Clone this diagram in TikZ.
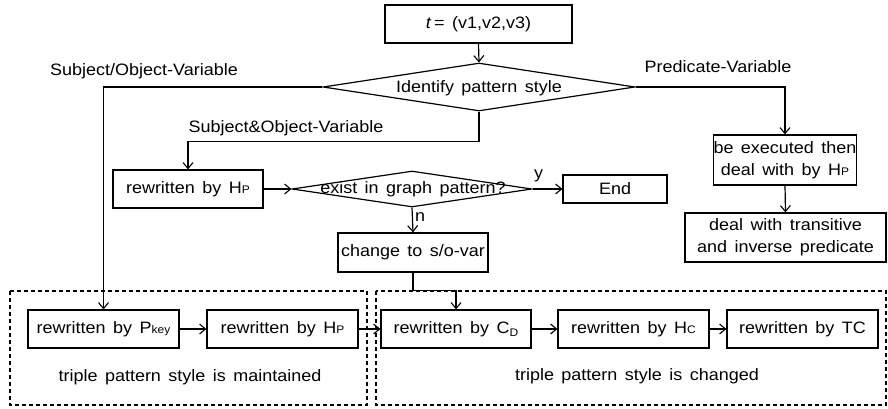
\documentclass[tikz,border=0pt]{standalone}
\usepackage{fontspec}
\setmainfont{Liberation Sans}[FakeStretch=1.09,WordSpace=1.5]
\usetikzlibrary{arrows.meta,shapes.geometric}
\newcommand\smx[1]{{\fontsize{11}{10}\selectfont #1}}
\tikzset{
  every node/.style={font=\fontsize{16.5}{22}\selectfont},
  box/.style={draw,line width=1.2pt,inner sep=0pt,align=center},
  dia/.style={draw,diamond,line width=1.2pt,inner sep=0pt},
  conn/.style={line width=1.2pt,-{Straight Barb[length=6pt,width=10pt,line width=1.1pt]}},
  region/.style={draw,line width=1.1pt,dash pattern=on 4pt off 3pt},
  lbl/.style={inner sep=0pt}
}
\begin{document}
\begin{tikzpicture}[x=1pt,y=-1pt]
\useasboundingbox (0,0) rectangle (888,409);
% dashed regions
\draw[region] (10,291) rectangle (367,405);
\draw[region] (376,291) rectangle (886,405);
% nodes
\node[box,minimum width=187,minimum height=38] (t) at (478.5,24) {\textit{t}\,= (v1,v2,v3)};
\node[dia,minimum width=312,minimum height=48] (d1) at (479,87) {};
\node[lbl] at (479,88) {Identify pattern style};
\node[box,minimum width=150,minimum height=38] (hp1) at (188,189) {rewritten by H\smx{P}};
\node[dia,minimum width=240,minimum height=36] (d2) at (412,189) {};
\node[lbl] at (413,189) {exist in graph pattern?};
\node[box,minimum width=104,minimum height=28] (end) at (615,189) {End};
\node[box,minimum width=142,minimum height=50] (exec) at (785,160) {be executed then\\deal with by H\smx{P}};
\node[box,minimum width=201,minimum height=49] (trans) at (785.5,237.5) {deal with transitive\\and inverse predicate};
\node[box,minimum width=150,minimum height=39] (change) at (413,252.5) {change to s/o-var};
\node[box,minimum width=151,minimum height=38] (pkey) at (103.5,329) {rewritten by P\smx{key}};
\node[box,minimum width=151,minimum height=38] (hp2) at (282.5,329) {rewritten by H\smx{P}};
\node[box,minimum width=150,minimum height=38] (cd) at (456,329) {rewritten by C\raisebox{-3pt}{\smx{D}}};
\node[box,minimum width=151,minimum height=38] (hc) at (633.5,329) {rewritten by H\smx{C}};
\node[box,minimum width=151,minimum height=38] (tc) at (802.5,329) {rewritten by TC};
% labels
\node[lbl] (lso) at (144,71) {Subject/Object-Variable};
\node[lbl] (lsao) at (286,128) {Subject\&Object-Variable};
\node[lbl] (lpv) at (718,67) {Predicate-Variable};
\node[lbl] (lmain) at (190,377) {triple pattern style is maintained};
\node[lbl] (lchg) at (637,376) {triple pattern style is changed};
% connectors
\draw[conn] (t.south) -- (d1.north);
\draw[conn] (d1.west) -| (pkey.north);
\draw[conn] (d1.south) -- ++(0,30) -| (hp1.north);
\draw[conn] (d1.east) -| (exec.north);
\draw[conn] (exec.south) -- (trans.north);
\draw[conn] (hp1.east) -- (d2.west);
\draw[conn] (d2.east) -- node[lbl,pos=0.2,above=6pt]{y} (end.west);
\draw[conn] (d2.south) -- node[lbl,right=2pt,pos=0.4]{n} (change.north);
\draw[conn] (change.south) -- ++(0,18) -| (cd.north);
\draw[conn] (pkey.east) -- (hp2.west);
\draw[conn] (hp2.east) -- (cd.west);
\draw[conn] (cd.east) -- (hc.west);
\draw[conn] (hc.east) -- (tc.west);
\end{tikzpicture}
\end{document}
